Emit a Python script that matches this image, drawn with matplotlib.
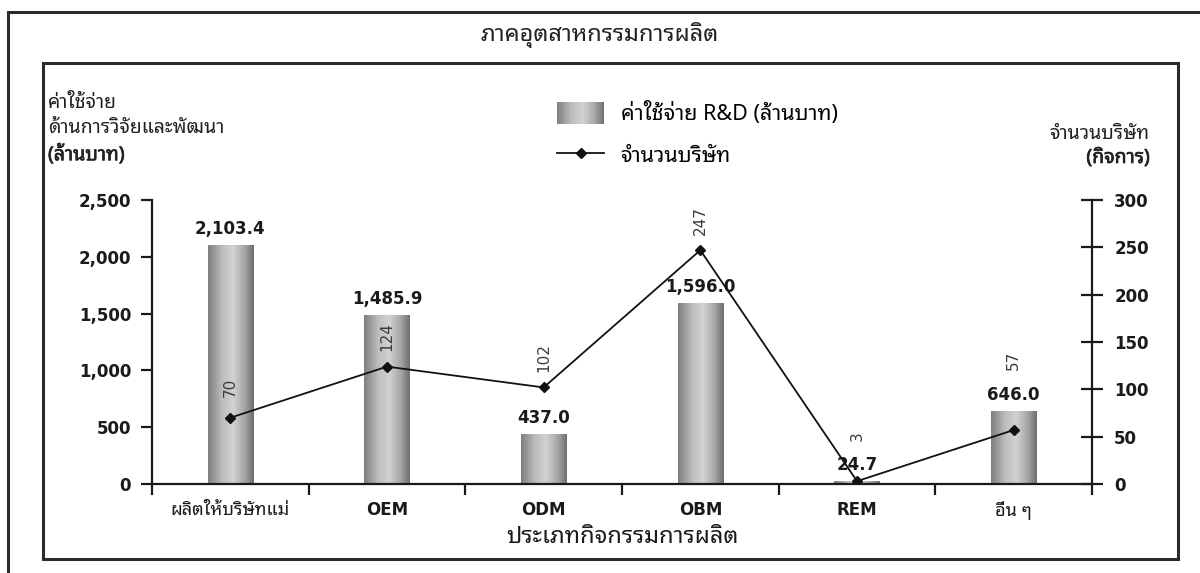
import numpy as np
import matplotlib
matplotlib.use('Agg')
import matplotlib.pyplot as plt
from matplotlib import font_manager as fm
from matplotlib import patheffects as pe
from matplotlib.colors import LinearSegmentedColormap
from matplotlib.patches import Rectangle
from matplotlib.lines import Line2D
from matplotlib.legend_handler import HandlerBase
from matplotlib.ticker import FuncFormatter

# ---------------- data ----------------
categories = ['ผลิตให้บริษัทแม่', 'OEM', 'ODM', 'OBM', 'REM', 'อื่น ๆ']
rd_spending = [2103.4, 1485.9, 437.0, 1596.0, 24.7, 646.0]   # ล้านบาท
firm_counts = [70, 124, 102, 247, 3, 57]                      # กิจการ
left_ticks = [0, 500, 1000, 1500, 2000, 2500]
right_ticks = [0, 50, 100, 150, 200, 250, 300]

title_text = 'ภาคอุตสาหกรรมการผลิต'
xlabel_text = 'ประเภทกิจกรรมการผลิต'
left_label_lines = ['ค่าใช้จ่าย', 'ด้านการวิจัยและพัฒนา', '(ล้านบาท)']
right_label_lines = ['จำนวนบริษัท', '(กิจการ)']
legend_labels = ['ค่าใช้จ่าย R&D (ล้านบาท)', 'จำนวนบริษัท']


# ---------------- fonts ----------------
def find_thai_fonts():
    try:
        from fontTools.ttLib import TTFont
    except Exception:
        return []
    found = []
    seen = set()
    for fe in fm.fontManager.ttflist:
        if fe.name in seen:
            continue
        try:
            kw = {'fontNumber': 0} if fe.fname.lower().endswith(('.ttc', '.otc')) else {}
            tt = TTFont(fe.fname, lazy=True, **kw)
            cmap = tt.getBestCmap() or {}
            if 0x0E01 in cmap and 0x0E33 in cmap and 0x0E34 in cmap:
                found.append(fe.name)
                seen.add(fe.name)
        except Exception:
            pass
    return found


thai_fonts = find_thai_fonts()
pref = ['Noto Sans Thai', 'Sarabun', 'Loma', 'Garuda', 'Tlwg', 'Kinnari', 'Norasi', 'Thai']
thai_font = None
for p in pref:
    for f in thai_fonts:
        if p.lower() in f.lower():
            thai_font = f
            break
    if thai_font:
        break
if thai_font is None and thai_fonts:
    thai_font = thai_fonts[0]

FAM = [thai_font, 'DejaVu Sans'] if thai_font else ['DejaVu Sans']
LAT = ['DejaVu Sans']
plt.rcParams['font.family'] = FAM
BOLDISH = [pe.withStroke(linewidth=0.5, foreground='#222222')]

# ---------------- figure ----------------
W, H = 1200, 573
fig = plt.figure(figsize=(W / 100, H / 100), dpi=100)
fig.patch.set_facecolor('white')

def fx(px):
    return px / W

def fy(py):
    return 1 - py / H

# frames
fig.add_artist(Rectangle((fx(8), fy(H + 20)), 1.2, (H + 20 - 12) / H, transform=fig.transFigure,
                         fill=False, lw=2.2, edgecolor='#2b2b2b'))
fig.add_artist(Rectangle((fx(43), fy(559)), (1178 - 43) / W, (559 - 63) / H, transform=fig.transFigure,
                         fill=False, lw=2.2, edgecolor='#2b2b2b'))

fig.text(0.5, fy(35), title_text, ha='center', va='center', fontsize=17, family=FAM, color='#222222')

ax = fig.add_axes([fx(152), fy(484), (1092 - 152) / W, (484 - 200) / H])
ax2 = ax.twinx()

x = np.arange(len(categories))
bar_cmap = LinearSegmentedColormap.from_list(
    'cyl', [(0, '#7e7e7e'), (0.3, '#bcbcbc'), (0.55, '#d2d2d2'), (0.8, '#a6a6a6'), (1, '#6e6e6e')])

bars = ax.bar(x, rd_spending, width=0.29, color='none', edgecolor='none', zorder=2)
grad = np.linspace(0, 1, 256).reshape(1, -1)
for b in bars:
    x0, y0, w, h = b.get_x(), b.get_y(), b.get_width(), b.get_height()
    im = ax.imshow(grad, extent=[x0, x0 + w, y0, y0 + h], cmap=bar_cmap, aspect='auto',
                   origin='lower', zorder=2, interpolation='bilinear')
    im.set_clip_path(b)

ax.set_xlim(-0.5, len(categories) - 0.5)
ax.set_ylim(left_ticks[0], left_ticks[-1])
ax2.set_ylim(right_ticks[0], right_ticks[-1])

ax.bar_label(bars, labels=[f'{v:,.1f}' for v in rd_spending], padding=5,
             fontsize=12, fontweight='bold', family=LAT, color='#1a1a1a')

ax2.plot(x, firm_counts, color='#111111', lw=1.3, marker='D', markersize=5.5, zorder=5)

# rotated count labels, pushed above bar value labels when they collide
for i, (c, v) in enumerate(zip(firm_counts, rd_spending)):
    py = ax2.transData.transform((i, c))[1]
    by = ax.transData.transform((i, v))[1]
    half = 5.2 * len(str(c))
    centre = py + 30
    lab_lo, lab_hi = by + 5, by + 26
    if centre - half < lab_hi and centre + half > lab_lo:
        centre = lab_hi + 14 + half
    ax2.annotate(str(c), xy=(i, c), xytext=(0, (centre - py) * 72 / fig.dpi), textcoords='offset points',
                 rotation=90, ha='center', va='center', fontsize=11, family=LAT, color='#3a3a3a')

# spines
for s in ['top', 'right']:
    ax.spines[s].set_visible(False)
for s in ['top', 'left', 'bottom']:
    ax2.spines[s].set_visible(False)
for sp in [ax.spines['left'], ax.spines['bottom'], ax2.spines['right']]:
    sp.set_linewidth(1.6)
    sp.set_color('#1a1a1a')

ax.set_yticks(left_ticks)
ax.yaxis.set_major_formatter(FuncFormatter(lambda v, p: f'{v:,.0f}'))
ax.tick_params(axis='y', direction='out', length=8, width=1.6, pad=7, labelsize=12, colors='#1a1a1a')
for t in ax.get_yticklabels():
    t.set_fontweight('bold')
    t.set_family(LAT)

ax2.set_yticks(right_ticks)
ax2.tick_params(axis='y', direction='inout', length=16, width=1.6, pad=8, labelsize=12, colors='#1a1a1a')
for t in ax2.get_yticklabels():
    t.set_fontweight('bold')
    t.set_family(LAT)

ax.set_xticks(x)
ax.set_xticklabels(categories)
ax.set_xticks(np.arange(-0.5, len(categories), 1.0), minor=True)
ax.tick_params(axis='x', which='major', length=0, pad=12, colors='#1a1a1a')
ax.tick_params(axis='x', which='minor', direction='out', length=8, width=1.6, colors='#1a1a1a')
for t in ax.get_xticklabels():
    if t.get_text().isascii():
        t.set_fontweight('bold')
        t.set_family(LAT)
        t.set_fontsize(12)
    else:
        t.set_family(FAM)
        t.set_fontsize(13)

ax.set_xlabel(xlabel_text, fontsize=17, family=FAM, labelpad=4, color='#1a1a1a')

# axis titles
fig.text(fx(48), fy(103), left_label_lines[0], ha='left', va='center', fontsize=14, family=FAM, color='#222222')
fig.text(fx(48), fy(128), left_label_lines[1], ha='left', va='center', fontsize=14, family=FAM, color='#222222')
fig.text(fx(48), fy(155), left_label_lines[2], ha='left', va='center', fontsize=14, family=FAM,
         color='#222222', path_effects=BOLDISH)
fig.text(fx(1150), fy(134), right_label_lines[0], ha='right', va='center', fontsize=14, family=FAM, color='#222222')
fig.text(fx(1150), fy(158), right_label_lines[1], ha='right', va='center', fontsize=14, family=FAM,
         color='#222222', path_effects=BOLDISH)


# legend
class GradientHandler(HandlerBase):
    def create_artists(self, legend, orig_handle, xdescent, ydescent, width, height, fontsize, trans):
        n = 40
        arts = []
        for k in range(n):
            r = Rectangle((-xdescent + width * k / n, -ydescent), width / n * 1.08, height,
                          facecolor=bar_cmap((k + 0.5) / n), edgecolor='none', transform=trans)
            arts.append(r)
        return arts


bar_proxy = Rectangle((0, 0), 1, 1)
line_proxy = Line2D([], [], color='#111111', lw=1.3, marker='D', markersize=5.5)
leg = ax2.legend([bar_proxy, line_proxy], legend_labels,
                 handler_map={Rectangle: GradientHandler()},
                 loc='upper left', bbox_to_anchor=(fx(557), fy(102)), bbox_transform=fig.transFigure,
                 frameon=False, borderpad=0, borderaxespad=0, handlelength=2.2, handleheight=1.2,
                 handletextpad=0.75, labelspacing=0.85, prop={'family': FAM, 'size': 15.5})

fig.savefig('out.png', dpi=100, facecolor='white')
